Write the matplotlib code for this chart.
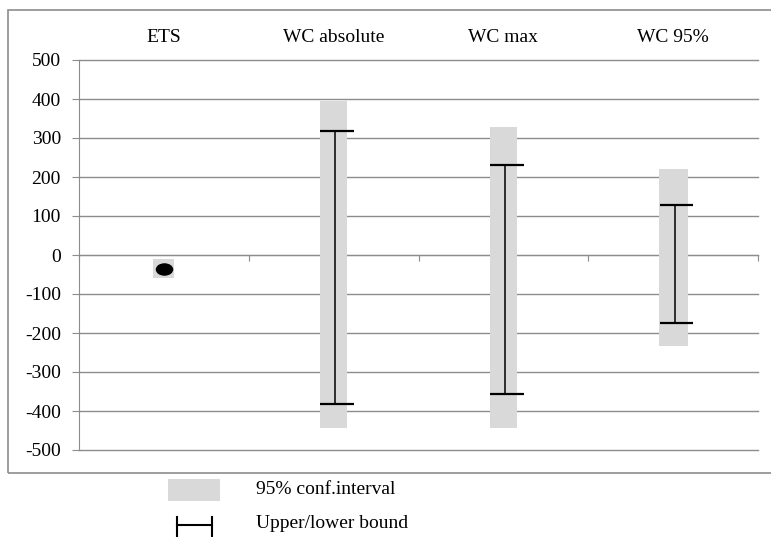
import matplotlib.pyplot as plt
import matplotlib.transforms as mtransforms
from matplotlib.patches import Rectangle
from matplotlib.lines import Line2D
from matplotlib.markers import MarkerStyle

# categories and values
categories = ['ETS', 'WC absolute', 'WC max', 'WC 95%']
ci_low = [-59, -444, -444, -233]      # 95% confidence interval
ci_high = [-10, 395, 328, 220]
bound_low = [None, -382, -357, -174]  # upper/lower bound
bound_high = [None, 318, 231, 128]
point_est = [-36, None, None, None]   # point estimate (ETS only)

plt.rcParams['font.family'] = ['Liberation Serif', 'DejaVu Serif']
plt.rcParams['axes.unicode_minus'] = False
grey_line = '#8c8c8c'
bar_grey = '#d9d9d9'
fs = 14

fig = plt.figure(figsize=(7.71, 5.37), dpi=100)
ax = fig.add_axes([79 / 771, 1 - 450 / 537, 679 / 771, 390 / 537])

x = list(range(1, len(categories) + 1))
widths = [0.125, 0.16, 0.16, 0.17]

# grey confidence bars
for xi, lo, hi, w in zip(x, ci_low, ci_high, widths):
    ax.bar(xi, hi - lo, bottom=lo, width=w, color=bar_grey, zorder=2)

# bound lines with caps
for xi, lo, hi in zip(x, bound_low, bound_high):
    if lo is None:
        continue
    ax.vlines(xi + 0.01, lo, hi, color='black', lw=1.1, zorder=3)
    ax.hlines([lo, hi], xi - 0.08, xi + 0.12, color='black', lw=1.6, zorder=3)

# point estimate (flattened dot)
dot = MarkerStyle('o', transform=mtransforms.Affine2D().scale(1.4, 1.0))
for xi, p in zip(x, point_est):
    if p is None:
        continue
    ax.plot(xi, p, marker=dot, color='black', markersize=9, zorder=4,
            markeredgewidth=0, linestyle='none')

ax.set_xlim(0.5, len(categories) + 0.5)
ax.set_ylim(-500, 500)
ax.set_yticks(range(-500, 501, 100))
ax.yaxis.grid(True, color=grey_line, lw=1.0, zorder=1)
for gl in ax.yaxis.get_gridlines():
    gl.set_clip_on(False)
ax.set_axisbelow(True)

for s in ['top', 'right']:
    ax.spines[s].set_visible(False)
ax.spines['left'].set_color(grey_line)
ax.spines['bottom'].set_color(grey_line)
ax.spines['bottom'].set_position(('data', 0))
ax.spines['bottom'].set_zorder(1)

ax.set_xticks([i + 0.5 for i in range(len(categories) + 1)])
ax.set_xticklabels([])
ax.tick_params(axis='x', direction='out', length=4, color=grey_line)
ax.tick_params(axis='y', direction='out', length=5, color=grey_line,
               labelsize=fs, pad=8)

# category labels above the plot
trans = mtransforms.blended_transform_factory(ax.transData, fig.transFigure)
for xi, name in zip(x, categories):
    ax.text(xi, 1 - 37 / 537, name, transform=trans, ha='center', va='center',
            fontsize=fs)

# outer frame
fig.add_artist(Rectangle((8 / 771, 1 - 473 / 537), 1.0, 463 / 537,
                         transform=fig.transFigure, fill=False,
                         edgecolor=grey_line, lw=1.2))

# legend
fig.add_artist(Rectangle((168 / 771, 1 - 501 / 537), 52 / 771, 22 / 537,
                         transform=fig.transFigure, color=bar_grey, lw=0))
fig.text(256 / 771, 1 - 490 / 537, '95% conf.interval', ha='left',
         va='center', fontsize=fs)
yl = 1 - 525 / 537
fig.add_artist(Line2D([177 / 771, 212 / 771], [yl, yl],
                      transform=fig.transFigure, color='black', lw=1.5))
for xv in (177 / 771, 212 / 771):
    fig.add_artist(Line2D([xv, xv], [1 - 517 / 537, 1 - 537 / 537],
                          transform=fig.transFigure, color='black', lw=1.5))
fig.text(256 / 771, 1 - 523 / 537, 'Upper/lower bound', ha='left',
         va='center', fontsize=fs)

fig.savefig('out.png', dpi=100)
